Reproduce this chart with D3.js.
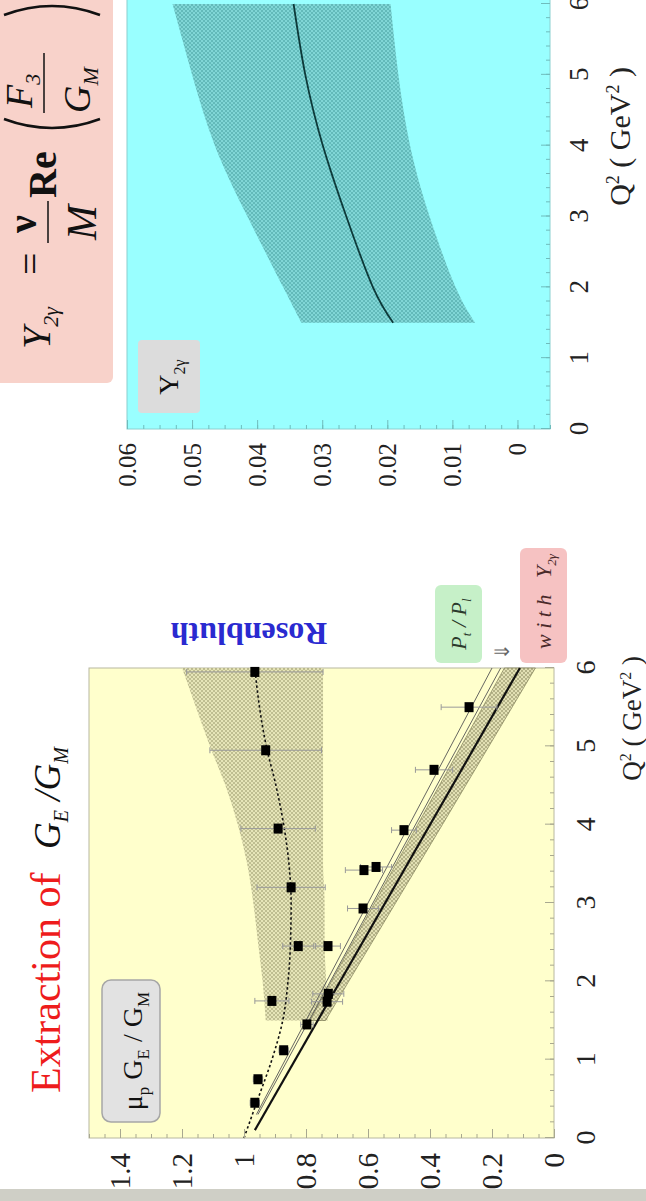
<!DOCTYPE html>
<html>
<head>
<meta charset="utf-8">
<script src="https://cdn.jsdelivr.net/npm/d3@7"></script>
<style>
  body { margin: 0; background: #fff; }
  svg { display: block; }
  text { font-family: "Liberation Serif", "Times New Roman", serif; }
</style>
</head>
<body>
<svg id="chart" width="646" height="1201"></svg>
<script>
// ---- data ----
const q2Ticks = [0, 1, 2, 3, 4, 5, 6];
const ratioTicks = [0, 0.2, 0.4, 0.6, 0.8, 1, 1.2, 1.4];
const ratioLabels = ['0', '0.2', '0.4', '0.6', '0.8', '1', '1.2', '1.4'];
const y2gTicks = [0, 0.01, 0.02, 0.03, 0.04, 0.05, 0.06];
const y2gLabels = ['0', '0.01', '0.02', '0.03', '0.04', '0.05', '0.06'];

// polarization transfer points
const polQ2  = [0.45, 0.75, 1.12, 1.45, 1.74, 1.84, 2.45, 2.93, 3.42, 3.46, 3.93, 4.70, 5.50];
const polVal = [0.965, 0.955, 0.872, 0.797, 0.732, 0.728, 0.729, 0.616, 0.613, 0.574, 0.484, 0.387, 0.274];
const polErr = [0.015, 0.015, 0.015, 0.02, 0.05, 0.05, 0.04, 0.05, 0.06, 0.05, 0.04, 0.06, 0.09];

// Rosenbluth points
const rosQ2  = [1.75, 2.45, 3.20, 3.95, 4.95, 5.95];
const rosVal = [0.91, 0.825, 0.848, 0.89, 0.93, 0.965];
const rosErr = [0.055, 0.05, 0.11, 0.12, 0.18, 0.22];

// Rosenbluth fit (dotted) and its band
const rosFitQ2  = [0, 0.5, 1, 1.5, 2, 2.5, 3, 3.5, 4, 4.5, 5, 5.5, 6];
const rosFitVal = [1.0, 0.955, 0.91, 0.875, 0.858, 0.85, 0.848, 0.855, 0.872, 0.897, 0.928, 0.95, 0.965];
const rosBandQ2 = [1.5, 2, 2.5, 3, 3.5, 4, 4.5, 5, 5.5, 6];
const rosBandHi = [0.93, 0.94, 0.955, 0.97, 0.99, 1.02, 1.06, 1.11, 1.155, 1.2];
const rosBandLo = [0.73, 0.735, 0.74, 0.74, 0.745, 0.745, 0.745, 0.745, 0.745, 0.745];

// Pt/Pl fit lines (thin) and corrected result (thick + band)
const lineQ2   = [0.3, 6];
const thinA    = [0.96, 0.20];
const thinB    = [0.955, 0.172];
const thickQ2  = [0.1, 6];
const thickVal = [0.965, 0.11];
const corrBandQ2 = [1.5, 2, 3, 4, 5, 6];
const corrBandHi = [0.787, 0.718, 0.579, 0.44, 0.30, 0.16];
const corrBandLo = [0.737, 0.662, 0.511, 0.36, 0.21, 0.06];

// Y_2gamma panel
const y2gQ2  = [1.5, 2, 3, 4, 5, 6];
const y2gFit = [0.0191, 0.0222, 0.0263, 0.0299, 0.0326, 0.0344];
const y2gHi  = [0.0332, 0.036, 0.0415, 0.0465, 0.050, 0.053];
const y2gLo  = [0.0065, 0.0095, 0.0135, 0.0165, 0.0183, 0.0195];

// ---- drawing ----
const svg = d3.select('#chart');
const defs = svg.append('defs');

function hatch(id, bg, fg) {
    const p = defs.append('pattern').attr('id', id)
        .attr('patternUnits', 'userSpaceOnUse').attr('width', 4).attr('height', 4);
    p.append('rect').attr('width', 4).attr('height', 4).attr('fill', bg);
    p.append('path').attr('d', 'M0,0 L4,4 M4,0 L0,4').attr('stroke', fg).attr('stroke-width', 0.6);
}
hatch('hatchOlive', '#e2e0b4', '#969468');
hatch('hatchTeal', '#80d6d6', '#4fa8a8');

// the slide is shown turned a quarter turn; draw it in landscape and rotate
const page = svg.append('g').attr('transform', 'translate(0,1201) rotate(-90)');

// grey slide edge
page.append('rect').attr('x', 0).attr('y', 0).attr('width', 12).attr('height', 646).attr('fill', '#cfcfc6');

// ---------- left panel ----------
const xL = d3.scaleLinear().domain([0, 6]).range([63, 533]);
const yL = d3.scaleLinear().domain([0, 1.5]).range([554, 89]);

page.append('rect').attr('x', 63).attr('y', 89).attr('width', 470).attr('height', 465)
    .attr('fill', '#ffffcc').attr('stroke', '#b8b8a0').attr('stroke-width', 1);

const areaL = d3.area().x(d => xL(d[0])).y0(d => yL(d[1])).y1(d => yL(d[2]));
page.append('path')
    .datum(rosBandQ2.map((q, i) => [q, rosBandLo[i], rosBandHi[i]]))
    .attr('d', areaL.curve(d3.curveMonotoneX)).attr('fill', 'url(#hatchOlive)').attr('opacity', 0.85);
page.append('path')
    .datum(corrBandQ2.map((q, i) => [q, corrBandLo[i], corrBandHi[i]]))
    .attr('d', areaL).attr('fill', 'url(#hatchOlive)').attr('stroke', '#6d6b48').attr('stroke-width', 0.6);

const lineL = d3.line().x(d => xL(d[0])).y(d => yL(d[1]));
page.append('path').datum(lineQ2.map((q, i) => [q, thinA[i]]))
    .attr('d', lineL).attr('fill', 'none').attr('stroke', '#555').attr('stroke-width', 0.9);
page.append('path').datum(lineQ2.map((q, i) => [q, thinB[i]]))
    .attr('d', lineL).attr('fill', 'none').attr('stroke', '#555').attr('stroke-width', 0.9);
page.append('path').datum(thickQ2.map((q, i) => [q, thickVal[i]]))
    .attr('d', lineL).attr('fill', 'none').attr('stroke', '#111').attr('stroke-width', 2.2);
page.append('path').datum(rosFitQ2.map((q, i) => [q, rosFitVal[i]]))
    .attr('d', d3.line().x(d => xL(d[0])).y(d => yL(d[1])).curve(d3.curveMonotoneX))
    .attr('fill', 'none').attr('stroke', '#111').attr('stroke-width', 1.6).attr('stroke-dasharray', '2.5,2.5');

function points(q, v, e) {
    const pts = q.map((d, i) => ({ q: d, v: v[i], e: e[i] }));
    const g = page.append('g');
    g.selectAll('.err').data(pts).enter().append('path')
        .attr('d', d => `M${xL(d.q)},${yL(d.v - d.e)}V${yL(d.v + d.e)}` +
            `M${xL(d.q) - 3},${yL(d.v - d.e)}h6M${xL(d.q) - 3},${yL(d.v + d.e)}h6`)
        .attr('stroke', '#999').attr('stroke-width', 1).attr('fill', 'none');
    g.selectAll('.pt').data(pts).enter().append('rect')
        .attr('x', d => xL(d.q) - 5).attr('y', d => yL(d.v) - 4.5)
        .attr('width', 10).attr('height', 9).attr('fill', '#000');
}
points(rosQ2, rosVal, rosErr);
points(polQ2, polVal, polErr);

// axes of the left panel
const axL = page.append('g').attr('transform', 'translate(0,554)');
axL.call(d3.axisBottom(xL).tickValues(d3.range(0, 6.01, 0.2)).tickSize(-4).tickFormat(''));
const axL2 = page.append('g').attr('transform', 'translate(0,554)');
axL2.call(d3.axisBottom(xL).tickValues(q2Ticks).tickSize(-9).tickPadding(21).tickFormat(d3.format('d')));
const ayL = page.append('g').attr('transform', 'translate(63,0)');
ayL.call(d3.axisLeft(yL).tickValues(d3.range(0, 1.51, 0.05)).tickSize(-4).tickFormat(''));
const ayL2 = page.append('g').attr('transform', 'translate(63,0)');
ayL2.call(d3.axisLeft(yL).tickValues(ratioTicks).tickSize(-9).tickPadding(15)
    .tickFormat((d, i) => ratioLabels[i]));
[axL, axL2, ayL, ayL2].forEach(a => {
    a.select('.domain').remove();
    a.selectAll('.tick line').attr('stroke', '#a8a890');
});
[axL2, ayL2].forEach(a => a.selectAll('.tick text').attr('fill', '#222').attr('font-family', 'Liberation Serif'));
axL2.selectAll('.tick text').attr('font-size', 28);
ayL2.selectAll('.tick text').attr('font-size', 29);

page.append('text').attr('x', 545).attr('y', 641).attr('text-anchor', 'end')
    .attr('font-size', 27).attr('fill', '#222')
    .html('Q<tspan dy="-10" font-size="16">2</tspan><tspan dy="10"> ( GeV</tspan><tspan dy="-10" font-size="16">2</tspan><tspan dy="10"> )</tspan>');

// legend box
page.append('rect').attr('x', 79).attr('y', 102).attr('width', 142).attr('height', 58).attr('rx', 9)
    .attr('fill', '#e2e2e2').attr('stroke', '#a6a6a6').attr('stroke-width', 1.5);
page.append('text').attr('x', 150).attr('y', 142).attr('text-anchor', 'middle')
    .attr('font-size', 28).attr('fill', '#111')
    .html('μ<tspan dy="7" font-size="17">p</tspan><tspan dy="-7"> G</tspan><tspan dy="7" font-size="17">E</tspan><tspan dy="-7"> / G</tspan><tspan dy="7" font-size="17">M</tspan>');

// title
page.append('text').attr('x', 108).attr('y', 60).attr('font-size', 42).attr('fill', '#ee1c1c')
    .text('Extraction of');
page.append('text').attr('x', 352).attr('y', 60).attr('font-size', 37).attr('fill', '#111')
    .attr('font-style', 'italic')
    .html('G<tspan dy="8" font-size="20">E</tspan><tspan dy="-8"> /G</tspan><tspan dy="8" font-size="20">M</tspan>');

// Rosenbluth label, turned
page.append('text').attr('transform', 'translate(578,249) rotate(-90)')
    .attr('text-anchor', 'middle').attr('font-size', 32).attr('font-weight', 'bold')
    .attr('fill', '#2a2ad0').text('Rosenbluth');

// green and pink tags
page.append('rect').attr('x', 538).attr('y', 435).attr('width', 78).attr('height', 47).attr('rx', 6)
    .attr('fill', '#c6f0c8');
page.append('text').attr('x', 577).attr('y', 466).attr('text-anchor', 'middle')
    .attr('font-size', 22).attr('font-style', 'italic').attr('fill', '#2c3a2c')
    .html('P<tspan dy="5" font-size="13">t</tspan><tspan dy="-5"> / P</tspan><tspan dy="5" font-size="13">l</tspan>');
page.append('text').attr('x', 550).attr('y', 509).attr('text-anchor', 'middle')
    .attr('font-family', 'DejaVu Sans').attr('font-size', 20).attr('fill', '#666').text('⇓');
page.append('rect').attr('x', 538).attr('y', 520).attr('width', 115).attr('height', 47).attr('rx', 6)
    .attr('fill', '#f6c2c2');
page.append('text').attr('x', 552).attr('y', 551)
    .attr('font-size', 22).attr('font-style', 'italic').attr('fill', '#4a2a2a')
    .html('w i t h  &#160; Y<tspan dy="5" font-size="13">2γ</tspan>');

// ---------- right panel ----------
const xR = d3.scaleLinear().domain([0, 6]).range([772, 1197]);
const yR = d3.scaleLinear().domain([-0.005, 0.06]).range([550, 127]);

page.append('rect').attr('x', 772).attr('y', 127).attr('width', 440).attr('height', 423)
    .attr('fill', '#99ffff').attr('stroke', '#8ad0d0').attr('stroke-width', 1);

page.append('path')
    .datum(y2gQ2.map((q, i) => [q, y2gLo[i], y2gHi[i]]))
    .attr('d', d3.area().x(d => xR(d[0])).y0(d => yR(d[1])).y1(d => yR(d[2])).curve(d3.curveNatural))
    .attr('fill', 'url(#hatchTeal)');
page.append('path')
    .datum(y2gQ2.map((q, i) => [q, y2gFit[i]]))
    .attr('d', d3.line().x(d => xR(d[0])).y(d => yR(d[1])).curve(d3.curveNatural))
    .attr('fill', 'none').attr('stroke', '#0d3a3a').attr('stroke-width', 1.8);

const axR = page.append('g').attr('transform', 'translate(0,550)');
axR.call(d3.axisBottom(xR).tickValues(d3.range(0, 6.01, 0.2)).tickSize(-4).tickFormat(''));
const axR2 = page.append('g').attr('transform', 'translate(0,550)');
axR2.call(d3.axisBottom(xR).tickValues(q2Ticks).tickSize(-9).tickPadding(19).tickFormat(d3.format('d')));
const ayR = page.append('g').attr('transform', 'translate(772,0)');
ayR.call(d3.axisLeft(yR).tickValues(d3.range(-0.005, 0.0601, 0.0025)).tickSize(-4).tickFormat(''));
const ayR2 = page.append('g').attr('transform', 'translate(772,0)');
ayR2.call(d3.axisLeft(yR).tickValues(y2gTicks).tickSize(-9).tickPadding(14)
    .tickFormat((d, i) => y2gLabels[i]));
[axR, axR2, ayR, ayR2].forEach(a => {
    a.select('.domain').remove();
    a.selectAll('.tick line').attr('stroke', '#6fbcbc');
});
[axR2, ayR2].forEach(a => a.selectAll('.tick text').attr('fill', '#222').attr('font-family', 'Liberation Serif'));
axR2.selectAll('.tick text').attr('font-size', 27);
ayR2.selectAll('.tick text').attr('font-size', 25);

page.append('text').attr('x', 1134).attr('y', 630).attr('text-anchor', 'end')
    .attr('font-size', 30).attr('fill', '#222')
    .html('Q<tspan dy="-11" font-size="18">2</tspan><tspan dy="11"> ( GeV</tspan><tspan dy="-11" font-size="18">2</tspan><tspan dy="11"> )</tspan>');

page.append('rect').attr('x', 788).attr('y', 138).attr('width', 73).attr('height', 62).attr('rx', 4)
    .attr('fill', '#dcdcdc');
page.append('text').attr('x', 824).attr('y', 178).attr('text-anchor', 'middle')
    .attr('font-size', 28).attr('fill', '#111')
    .html('Y<tspan dy="7" font-size="16">2γ</tspan>');

// formula box
page.append('rect').attr('x', 818).attr('y', -10).attr('width', 400).attr('height', 123).attr('rx', 6)
    .attr('fill', '#f8d2ca');
const fx = page.append('g').attr('fill', '#111');
fx.append('text').attr('x', 852).attr('y', 50).attr('font-size', 40).attr('font-style', 'italic')
    .html('Y<tspan dy="8" font-size="22">2γ</tspan>');
fx.append('text').attr('x', 926).attr('y', 44).attr('font-size', 40).text('=');
fx.append('text').attr('x', 968).attr('y', 36).attr('font-size', 40).attr('font-weight', 'bold').text('ν');
fx.append('path').attr('d', 'M958,48H1000').attr('stroke', '#111').attr('stroke-width', 1.5);
fx.append('text').attr('x', 961).attr('y', 96).attr('font-size', 42).attr('font-style', 'italic').text('M');
fx.append('text').attr('x', 1003).attr('y', 56).attr('font-size', 40).attr('font-weight', 'bold').text('Re');
fx.append('path').attr('d', 'M1082,4 Q1064,52 1082,100').attr('stroke', '#111').attr('stroke-width', 2.5).attr('fill', 'none');
fx.append('text').attr('x', 1093).attr('y', 32).attr('font-size', 38).attr('font-style', 'italic')
    .html('F<tspan dy="8" font-size="22">3</tspan>');
fx.append('path').attr('d', 'M1088,44H1148').attr('stroke', '#111').attr('stroke-width', 1.5);
fx.append('text').attr('x', 1088).attr('y', 90).attr('font-size', 38).attr('font-style', 'italic')
    .html('G<tspan dy="8" font-size="22">M</tspan>');
fx.append('path').attr('d', 'M1186,4 Q1204,52 1186,100').attr('stroke', '#111').attr('stroke-width', 2.5).attr('fill', 'none');
</script>
</body>
</html>
